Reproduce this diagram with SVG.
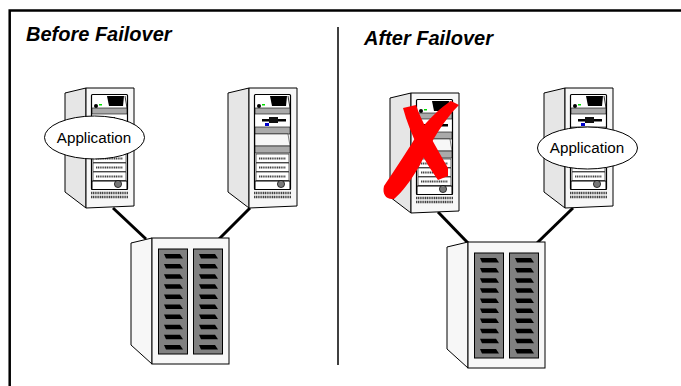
<svg xmlns="http://www.w3.org/2000/svg" width="681" height="386" viewBox="0 0 681 386">
<style>
.o{stroke:#000;stroke-width:1;fill:#fff}
.t{font-family:"Liberation Sans",Arial,sans-serif;font-size:15.2px;fill:#000;text-anchor:middle}
.h{font-family:"Liberation Sans",Arial,sans-serif;font-size:20px;font-weight:bold;font-style:italic;fill:#000}
.w{stroke:#000;stroke-width:3;fill:none}
.b{fill:#aaa;stroke:#000;stroke-width:.6}
.d{stroke:#444;fill:none;stroke-dasharray:1.200 .6}
</style>
<defs>
<g id="strip"><rect x="0" y="0" width="33" height="8.500" fill="#fff" stroke="#000" stroke-width=".6"/><line class="d" x1="3" y1="4.500" x2="30" y2="4.500" stroke-width="2"/></g>
<g id="server">
<polygon class="o" style="fill:#e6e6e6" points="0,5 21,0 21,120 0,104"/>
<polygon class="o" style="fill:#f7f7f7" points="21,0 69,0 69,118 21,120"/>
<rect x="26.500" y="6.500" width="36" height="95" fill="#fff" stroke="#000" stroke-width="1.200" rx="1"/>
<polygon points="42,8 59,8 58,18 44,18" fill="#000"/>
<polyline points="60,8 62,20" fill="none" stroke="#000" stroke-width=".8"/>
<circle cx="31" cy="18" r="2" fill="#000"/><rect x="34" y="16" width="3" height="1.500" fill="#0d0"/>
<rect class="b" x="27" y="20" width="35" height="6"/>
<rect x="34" y="31" width="24" height="2.500" fill="#000"/><rect x="41" y="29" width="9" height="6" fill="#111"/>
<rect x="37" y="35" width="4" height="3" fill="#00c"/>
<rect class="b" x="27" y="39" width="35" height="7"/>
<polygon points="27,46 60,46 62,58 27,58" fill="#f7f7f7" stroke="#000" stroke-width=".5"/>
<rect class="b" x="27" y="58" width="35" height="7"/>
<use href="#strip" x="28" y="66"/><use href="#strip" x="28" y="75"/><use href="#strip" x="28" y="84"/>
<rect x="27" y="93" width="35" height="8.500" fill="#fff" stroke="#000"/>
<circle cx="53" cy="96" r="3.600" fill="#777" stroke="#000" stroke-width=".7"/>
<line class="d" x1="26" y1="105" x2="63" y2="105" stroke-width="2.500"/>
<line class="d" x1="26" y1="109" x2="63" y2="109" stroke-width="2.500"/>
</g>
<polygon id="slot" points="0,0 16,0 19,4.500 2,4.500" fill="#000"/>
<g id="bay">
<rect x="0" y="0" width="29" height="105" fill="#808080" stroke="#000" stroke-width="1"/>
<use href="#slot" x="5.500" y="5"/><use href="#slot" x="5.500" y="15.100"/><use href="#slot" x="5.500" y="25.200"/><use href="#slot" x="5.500" y="35.300"/><use href="#slot" x="5.500" y="45.400"/><use href="#slot" x="5.500" y="55.500"/><use href="#slot" x="5.500" y="65.600"/><use href="#slot" x="5.500" y="75.700"/><use href="#slot" x="5.500" y="85.800"/><use href="#slot" x="5.500" y="95.900"/>
</g>
<g id="storage">
<polygon class="o" style="fill:#f7f7f7" points="0,5 21,0 21,126 0,107"/>
<rect class="o" style="fill:#f7f7f7" x="21" y="0" width="77" height="126"/>
<use href="#bay" x="27.500" y="11"/><use href="#bay" x="62.500" y="11"/>
</g>
</defs>
<path d="M9.700 386V10.500H681" fill="none" stroke="#000" stroke-width="2.500"/>
<line x1="338" y1="27" x2="338" y2="365" stroke="#000" stroke-width="1.500"/>
<g id="connectors">
<line class="w" x1="113" y1="208" x2="146" y2="239"/>
<line class="w" x1="250" y1="208" x2="219" y2="239"/>
<line class="w" x1="438" y1="212" x2="468" y2="243"/>
<line class="w" x1="573" y1="208" x2="537" y2="243"/>
</g>
<g id="title-before"><text class="h" x="26" y="41">Before Failover</text></g>
<g id="title-after"><text class="h" x="364" y="45">After Failover</text></g>
<g id="server-1"><use href="#server" x="65" y="88"/></g>
<g id="server-2"><use href="#server" x="228" y="88"/></g>
<g id="server-3"><use href="#server" x="390" y="93"/></g>
<g id="server-4"><use href="#server" x="544" y="88"/></g>
<g id="storage-1"><use href="#storage" x="131" y="238"/></g>
<g id="storage-2"><use href="#storage" x="447" y="242"/></g>
<g id="app-1"><ellipse class="o" cx="94.500" cy="137.500" rx="50" ry="21.500"/><text class="t" x="94" y="143">Application</text></g>
<g id="app-2"><ellipse class="o" cx="587.500" cy="148" rx="50" ry="21"/><text class="t" x="587" y="153">Application</text></g>
<g id="cross" fill="#f00">
<path d="M403 108L416 105C422 123 435 145 448 168L448 176L438 180C425 162 410 135 403 108Z"/>
<path d="M451 101L459 105C444 120 432 140 420 165C410 182 402 192 394 199C386 200 382 194 384 186C396 168 408 150 420 130C430 118 440 108 451 101Z"/>
</g>
</svg>
